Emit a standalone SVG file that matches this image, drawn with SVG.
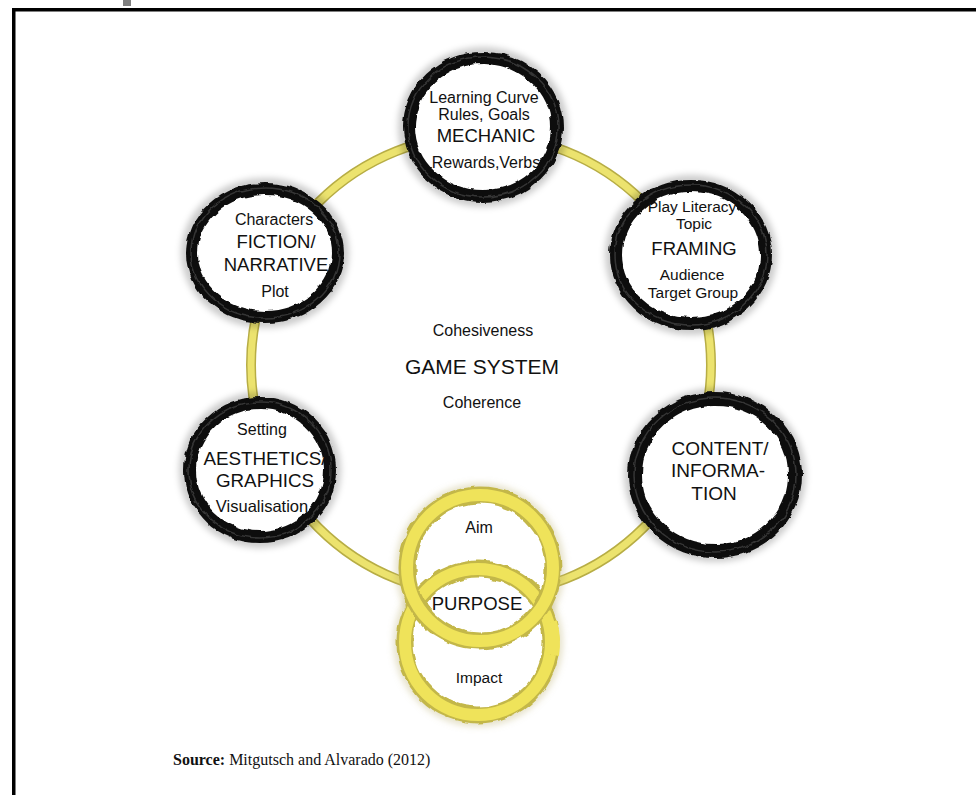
<svg xmlns="http://www.w3.org/2000/svg" width="976" height="795" viewBox="0 0 976 795">
  <defs>
    <filter id="brush" x="-20%" y="-20%" width="140%" height="140%">
      <feTurbulence type="fractalNoise" baseFrequency="0.09" numOctaves="2" seed="3" result="n"/>
      <feDisplacementMap in="SourceGraphic" in2="n" scale="5" xChannelSelector="R" yChannelSelector="G" result="d"/>
      <feGaussianBlur in="d" stdDeviation="0.7"/>
    </filter>
    <filter id="soft" x="-20%" y="-20%" width="140%" height="140%">
      <feGaussianBlur stdDeviation="3"/>
    </filter>
    <style>
      .frame { fill: none; stroke: #000; stroke-width: 3.5; }
      .halo { fill: none; stroke: #000; stroke-opacity: 0.2; stroke-width: 22; filter: url(#soft); }
      .ring { fill: #fff; stroke: #111; stroke-width: 12; filter: url(#brush); }
      .tex { fill: none; stroke: #555; stroke-width: 1.5; stroke-opacity: 0.55; filter: url(#brush); }
      .yel-out { fill: none; stroke: #b7ad45; stroke-width: 10; }
      .yel-in { fill: none; stroke: #ece36e; stroke-width: 7; }
      .pfill { fill: #fff; stroke: none; }
      .p-out { fill: none; stroke: #c3b748; stroke-width: 17; filter: url(#brush); }
      .p-in { fill: none; stroke: #efe35a; stroke-width: 12; }
      .p-halo { fill: none; stroke: #b9b070; stroke-opacity: 0.35; stroke-width: 24; filter: url(#soft); }
      text { font-family: "Liberation Sans", Arial, sans-serif; fill: #111; text-anchor: middle; }
      .s { font-size: 16px; }
      .m { font-size: 18.5px; }
      .l { font-size: 21px; }
      .src { font-family: "Liberation Serif", "Times New Roman", serif; font-size: 16px; text-anchor: start; }
    </style>
  </defs>

  <rect x="123" y="0" width="8" height="6" fill="#808080"/>
  <path class="frame" d="M 13.75 795 L 13.75 9.75 L 976 9.75"/>

  <g id="connectors">
    <circle class="yel-out" cx="481" cy="365" r="230"/>
    <circle class="yel-in" cx="481" cy="365" r="230"/>
  </g>

  <g id="node-mechanic">
    <ellipse class="halo" cx="483" cy="127" rx="74" ry="69"/>
    <ellipse class="ring" cx="483" cy="127" rx="74" ry="69"/>
    <ellipse class="tex" cx="483" cy="127" rx="75" ry="70"/>
    <text class="s" x="484" y="103">Learning Curve</text>
    <text class="s" x="484" y="120">Rules, Goals</text>
    <text class="m" x="486" y="142">MECHANIC</text>
    <text class="s" x="486" y="168">Rewards,Verbs</text>
  </g>

  <g id="node-fiction">
    <ellipse class="halo" cx="265" cy="253" rx="73" ry="64"/>
    <ellipse class="ring" cx="265" cy="253" rx="73" ry="64"/>
    <ellipse class="tex" cx="265" cy="253" rx="74" ry="65"/>
    <text class="s" x="274" y="225">Characters</text>
    <text class="m" x="276" y="248">FICTION/</text>
    <text class="m" x="276" y="271">NARRATIVE</text>
    <text class="s" x="275" y="297">Plot</text>
  </g>

  <g id="node-framing">
    <ellipse class="halo" cx="691" cy="255" rx="75" ry="69"/>
    <ellipse class="ring" cx="691" cy="255" rx="75" ry="69"/>
    <ellipse class="tex" cx="691" cy="255" rx="76" ry="70"/>
    <text class="s" x="692" y="212" style="font-size:15.5px">Play Literacy</text>
    <text class="s" x="694" y="229" style="font-size:15.5px">Topic</text>
    <text class="m" x="694" y="255">FRAMING</text>
    <text class="s" x="692" y="280" style="font-size:15.5px">Audience</text>
    <text class="s" x="693" y="298" style="font-size:15.5px">Target Group</text>
  </g>

  <g id="node-aesthetics">
    <ellipse class="halo" cx="260" cy="470" rx="70" ry="67"/>
    <ellipse class="ring" cx="260" cy="470" rx="70" ry="67"/>
    <ellipse class="tex" cx="260" cy="470" rx="71" ry="68"/>
    <text class="s" x="262" y="435">Setting</text>
    <text class="m" x="265" y="465" style="font-size:18.8px">AESTHETICS/</text>
    <text class="m" x="265" y="487" style="font-size:18.8px">GRAPHICS</text>
    <text class="s" x="262" y="512" style="font-size:16.5px">Visualisation</text>
  </g>

  <g id="node-content">
    <ellipse class="halo" cx="715" cy="475" rx="80" ry="76"/>
    <ellipse class="ring" cx="715" cy="475" rx="80" ry="76" style="stroke-width:14"/>
    <ellipse class="tex" cx="715" cy="475" rx="81" ry="77"/>
    <text class="m" x="720" y="455" style="font-size:19px">CONTENT/</text>
    <text class="m" x="718" y="477" style="font-size:19px">INFORMA-</text>
    <text class="m" x="714" y="500" style="font-size:19px">TION</text>
  </g>

  <g id="node-game-system">
    <text class="s" x="483" y="336">Cohesiveness</text>
    <text class="l" x="482" y="374">GAME SYSTEM</text>
    <text class="s" x="482" y="408">Coherence</text>
  </g>

  <g id="node-purpose">
    <circle class="p-halo" cx="480" cy="568" r="73"/>
    <circle class="p-halo" cx="478" cy="642" r="73"/>
    <circle class="pfill" cx="480" cy="568" r="73"/>
    <circle class="pfill" cx="478" cy="642" r="73"/>
    <circle class="p-out" cx="478" cy="642" r="73"/>
    <circle class="p-in" cx="478" cy="642" r="73"/>
    <circle class="p-out" cx="480" cy="568" r="73"/>
    <circle class="p-in" cx="480" cy="568" r="73"/>
    <path class="p-out" d="M 551 622 A 73 73 0 0 1 553 655"/>
    <path class="p-in" d="M 551 622 A 73 73 0 0 1 553 655"/>
    <text class="s" x="479" y="533">Aim</text>
    <text class="m" x="477" y="610">PURPOSE</text>
    <text class="s" x="479" y="683" style="font-size:15.5px">Impact</text>
  </g>

  <text class="src" x="173" y="765"><tspan font-weight="bold">Source:</tspan> Mitgutsch and Alvarado (2012)</text>
</svg>
